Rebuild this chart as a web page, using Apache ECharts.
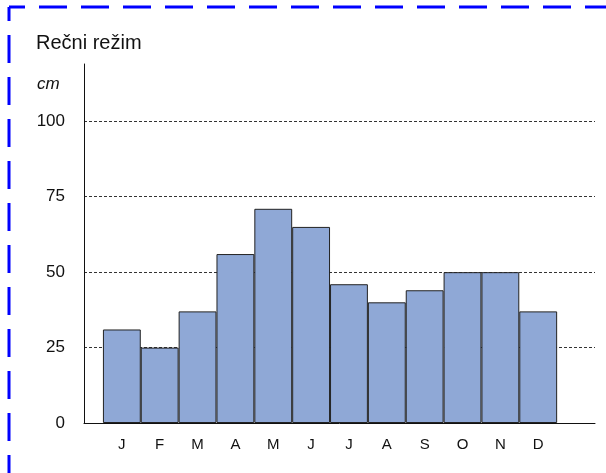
<!DOCTYPE html>
<html>
<head>
<meta charset="utf-8">
<script src="https://cdn.jsdelivr.net/npm/echarts@6/dist/echarts.min.js"></script>
<style>
  html, body { margin: 0; padding: 0; background: #fff; }
  #chart { width: 606px; height: 473px; }
</style>
</head>
<body>
<div id="chart"></div>
<script>
// monthly river regime, cm
var months = ['J', 'F', 'M', 'A', 'M', 'J', 'J', 'A', 'S', 'O', 'N', 'D'];
var levels = [31, 25, 37, 56, 71, 65, 46, 40, 44, 50, 50, 37];
var yTicks = [0, 25, 50, 75, 100];

var font = '"Liberation Sans", Arial, sans-serif';

var option = {
    animation: false,
    backgroundColor: '#fff',
    title: {
        text: 'Rečni režim',
        left: 31,
        top: 28,
        textStyle: {fontFamily: font, fontSize: 20, fontWeight: 'normal', color: '#111'}
    },
    graphic: [
        {
            type: 'text', left: 37, top: 76,
            style: {text: 'cm', font: 'italic 17px ' + font, fill: '#111'}
        },
        {
            type: 'polyline', silent: true,
            shape: {points: [[9, 7], [640, 7]]},
            style: {stroke: '#0000ff', lineWidth: 3, lineDash: [28, 14], lineDashOffset: 12, fill: null}
        },
        {
            type: 'polyline', silent: true,
            shape: {points: [[9, 7], [9, 500]]},
            style: {stroke: '#0000ff', lineWidth: 3, lineDash: [28, 14], lineDashOffset: 14, fill: null}
        }
    ],
    grid: {left: 84, right: 11, top: 64, bottom: 50},
    xAxis: {
        type: 'value',
        min: 0,
        max: 13.5,
        interval: 1,
        axisLine: {show: true, lineStyle: {color: '#111', width: 1}},
        axisTick: {show: false},
        splitLine: {show: false},
        axisLabel: {
            margin: 14,
            fontFamily: font,
            fontSize: 15,
            color: '#111',
            showMaxLabel: false,
            formatter: function (v) { return months[v - 1] || ''; }
        }
    },
    yAxis: {
        type: 'value',
        min: 0,
        max: 119,
        interval: 25,
        axisLine: {show: true, lineStyle: {color: '#111', width: 1}},
        axisTick: {show: false},
        splitLine: {
            show: true,
            showMinLine: false,
            showMaxLine: false,
            lineStyle: {color: '#333', type: [3, 2], width: 1}
        },
        axisLabel: {
            margin: 19,
            fontFamily: font,
            fontSize: 17,
            color: '#111',
            showMaxLabel: false,
            formatter: function (v) { return yTicks.indexOf(v) >= 0 ? String(v) : ''; }
        }
    },
    series: [
        {
            type: 'bar',
            barWidth: '100%',
            barCategoryGap: '0%',
            data: levels.map(function (v, i) { return [i + 1, v]; }),
            itemStyle: {color: '#8fa8d6', borderColor: '#222', borderWidth: 1}
        }
    ]
};

var myChart = echarts.init(document.getElementById('chart'));
myChart.setOption(option);
</script>
</body>
</html>
